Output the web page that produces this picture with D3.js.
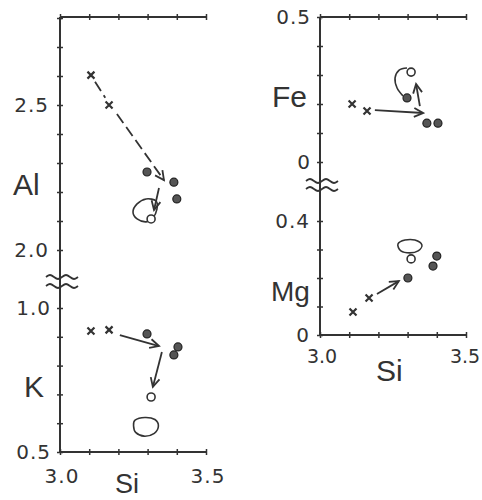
<!DOCTYPE html>
<html>
<head>
<meta charset="utf-8">
<script src="https://cdn.jsdelivr.net/npm/d3@7"></script>
<style>
  body { margin: 0; background: #fff; }
  text { font-family: "Liberation Sans", Arial, sans-serif; fill: #333; }
  text.num { font-family: "DejaVu Sans", sans-serif; letter-spacing: 1px; }
</style>
</head>
<body>
<div id="chart"></div>
<script>
// tick values and labels
var siTicks = [3.0, 3.1, 3.2, 3.3, 3.4, 3.5];
var siLabels = [3.0, 3.5];
var alTicks = [2.0, 2.1, 2.2, 2.3, 2.4, 2.5, 2.6, 2.7, 2.8];
var alLabels = [2.5, 2.0];
var kTicks = [0.5, 0.6, 0.7, 0.8, 0.9, 1.0];
var kLabels = [1.0, 0.5];
var feTicks = [0, 0.1, 0.2, 0.3, 0.4, 0.5];
var feLabels = [0.5, 0];
var mgTicks = [0, 0.1, 0.2, 0.3, 0.4];
var mgLabels = [0.4, 0];

// points [Si, value]
var alCross = [[3.106, 2.603], [3.168, 2.50]];
var alFilled = [[3.298, 2.269], [3.39, 2.234], [3.40, 2.176]];
var alOpen = [[3.312, 2.107]];
var alLoop = [[3.329, 2.169], [3.295, 2.176], [3.264, 2.159], [3.25, 2.131], [3.264, 2.107], [3.295, 2.097], [3.318, 2.110], [3.332, 2.141]];

var kCross = [[3.106, 0.92], [3.168, 0.924]];
var kFilled = [[3.298, 0.91], [3.404, 0.865], [3.39, 0.837]];
var kOpen = [[3.312, 0.691]];
var kLoop = [[3.257, 0.611], [3.291, 0.620], [3.325, 0.613], [3.337, 0.590], [3.323, 0.565], [3.288, 0.555], [3.259, 0.568], [3.252, 0.590]];

var feCross = [[3.110, 0.200], [3.161, 0.176]];
var feFilled = [[3.366, 0.134], [3.404, 0.134], [3.298, 0.221]];
var feOpen = [[3.312, 0.31]];
var feLoop = [[3.298, 0.324], [3.271, 0.317], [3.257, 0.290], [3.264, 0.255], [3.284, 0.228]];

var mgCross = [[3.113, 0.081], [3.168, 0.130]];
var mgFilled = [[3.301, 0.20], [3.40, 0.277], [3.387, 0.242]];
var mgOpen = [[3.312, 0.267]];
var mgLoop = [[3.267, 0.319], [3.291, 0.333], [3.325, 0.333], [3.349, 0.316], [3.336, 0.295], [3.308, 0.288], [3.277, 0.295]];

// arrows [from, to, dashed, head]
var alArrows = [[[3.12, 2.58], [3.155, 2.525], true, false], [[3.195, 2.469], [3.356, 2.241], true, true], [[3.339, 2.214], [3.322, 2.138], false, true]];
var kArrows = [[[3.205, 0.906], [3.339, 0.868], false, true], [[3.349, 0.847], [3.318, 0.726], false, true]];
var feArrows = [[[3.188, 0.179], [3.353, 0.169], false, true], [[3.342, 0.193], [3.329, 0.269], false, true]];
var mgArrows = [[[3.195, 0.144], [3.27, 0.189], false, true]];

var W = 482, H = 500;
var ink = "#333";

var svg = d3.select("#chart").append("svg")
    .attr("width", W).attr("height", H);

svg.append("defs").append("marker")
    .attr("id", "head")
    .attr("viewBox", "-10 -6 12 12")
    .attr("refX", 0).attr("refY", 0)
    .attr("markerWidth", 12).attr("markerHeight", 12)
    .attr("markerUnits", "userSpaceOnUse")
    .attr("orient", "auto")
  .append("path")
    .attr("d", "M-9,-4.5 L0,0 L-9,4.5")
    .attr("fill", "none")
    .attr("stroke", ink)
    .attr("stroke-width", 1.8);

// scales
var xL = d3.scaleLinear().domain([3.0, 3.5]).range([60, 206]);
var xR = d3.scaleLinear().domain([3.0, 3.5]).range([320, 466]);
var yAl = d3.scaleLinear().domain([2.0, 2.8]).range([250, 18]);
var yK = d3.scaleLinear().domain([0.5, 1.0]).range([452, 308]);
var yFe = d3.scaleLinear().domain([0, 0.5]).range([162, 17]);
var yMg = d3.scaleLinear().domain([0, 0.4]).range([335, 221]);

function frame(x, topY, botY) {
  // vertical line
  svg.append("line")
    .attr("x1", x.range()[0]).attr("x2", x.range()[0])
    .attr("y1", topY).attr("y2", botY)
    .attr("stroke", ink).attr("stroke-width", 2);
  // top and bottom axes
  [topY, botY].forEach(function(yy) {
    var g = svg.append("g").attr("transform", "translate(0," + yy + ")");
    g.call(d3.axisBottom(x).tickValues(siTicks).tickSize(3).tickFormat(""));
    g.select(".domain").attr("stroke", ink).attr("stroke-width", 2)
      .attr("d", "M" + x.range()[0] + ",0H" + x.range()[1]);
    g.selectAll(".tick line").attr("y1", -3).attr("stroke", ink).attr("stroke-width", 1.5);
  });
}

function yTicks(x0, y, ticks, labels, fmt, pad) {
  var g = svg.append("g").attr("transform", "translate(" + x0 + ",0)");
  g.call(d3.axisLeft(y).tickValues(ticks).tickSize(3).tickFormat(""));
  g.select(".domain").remove();
  g.selectAll(".tick line").attr("x1", 3).attr("stroke", ink).attr("stroke-width", 1.5);
  g.selectAll(".lab").data(labels).enter().append("text")
    .attr("class", "num")
    .attr("x", -pad)
    .attr("y", function(d) { return y(d) + 7; })
    .attr("text-anchor", "end")
    .style("font-size", "20px")
    .text(fmt);
}

function waves(x0, ys) {
  ys.forEach(function(yy) {
    var pts = d3.range(0, 9).map(function(i) {
      return [x0 - 14 + i * 4, yy + (i % 4 === 1 ? -3 : i % 4 === 3 ? 3 : 0)];
    });
    svg.append("path")
      .attr("d", d3.line().curve(d3.curveBasis)(pts))
      .attr("fill", "none").attr("stroke", ink).attr("stroke-width", 1.8);
  });
}

function marks(x, y, cross, filled, open, loop, closed, arrows) {
  var lg = closed ? d3.line().curve(d3.curveCardinalClosed) : d3.line().curve(d3.curveCardinal);
  svg.append("path")
    .attr("d", lg(loop.map(function(d) { return [x(d[0]), y(d[1])]; })))
    .attr("fill", "none").attr("stroke", ink).attr("stroke-width", 1.6);

  arrows.forEach(function(a) {
    svg.append("line")
      .attr("x1", x(a[0][0])).attr("y1", y(a[0][1]))
      .attr("x2", x(a[1][0])).attr("y2", y(a[1][1]))
      .attr("stroke", ink).attr("stroke-width", 1.8)
      .attr("stroke-dasharray", a[2] ? "11,5" : null)
      .attr("marker-end", a[3] ? "url(#head)" : null);
  });

  cross.forEach(function(d) {
    var cx = x(d[0]), cy = y(d[1]);
    svg.append("path")
      .attr("d", "M" + (cx - 3.5) + "," + (cy - 3.5) + "L" + (cx + 3.5) + "," + (cy + 3.5) +
                 "M" + (cx + 3.5) + "," + (cy - 3.5) + "L" + (cx - 3.5) + "," + (cy + 3.5))
      .attr("stroke", ink).attr("stroke-width", 2.2);
  });

  svg.append("g").selectAll("circle").data(filled).enter().append("circle")
    .attr("cx", function(d) { return x(d[0]); })
    .attr("cy", function(d) { return y(d[1]); })
    .attr("r", 4)
    .attr("fill", "#555").attr("stroke", "#222").attr("stroke-width", 1.2);

  svg.append("g").selectAll("circle").data(open).enter().append("circle")
    .attr("cx", function(d) { return x(d[0]); })
    .attr("cy", function(d) { return y(d[1]); })
    .attr("r", 4)
    .attr("fill", "#fff").attr("stroke", ink).attr("stroke-width", 1.6);
}

function label(txt, x, y, size) {
  svg.append("text").attr("x", x).attr("y", y)
    .style("font-size", size + "px").text(txt);
}

// left panel
frame(xL, 17, 452);
yTicks(60, yAl, alTicks, alLabels, d3.format(".1f"), 11);
yTicks(60, yK, kTicks, kLabels, d3.format(".1f"), 9);
waves(60, [277, 286]);
marks(xL, yAl, alCross, alFilled, alOpen, alLoop, true, alArrows);
marks(xL, yK, kCross, kFilled, kOpen, kLoop, true, kArrows);

// right panel
frame(xR, 17, 335);
var fmt0 = function(d) { return d === 0 ? "0" : d3.format(".1f")(d); };
yTicks(320, yFe, feTicks, feLabels, fmt0, 9);
yTicks(320, yMg, mgTicks, mgLabels, fmt0, 10);
waves(320, [181, 189]);
marks(xR, yFe, feCross, feFilled, feOpen, feLoop, false, feArrows);
marks(xR, yMg, mgCross, mgFilled, mgOpen, mgLoop, true, mgArrows);

// x tick labels
svg.selectAll(".xl").data(siLabels).enter().append("text")
  .attr("class", "num")
  .attr("x", function(d) { return xL(d) + 2; }).attr("y", 483)
  .attr("text-anchor", "middle").style("font-size", "20px")
  .text(d3.format(".1f"));
svg.selectAll(".xr").data(siLabels).enter().append("text")
  .attr("class", "num")
  .attr("x", function(d) { return xR(d) + (d === 3.5 ? -1 : 2); }).attr("y", 363)
  .attr("text-anchor", "middle").style("font-size", "19px").style("letter-spacing", "0px")
  .text(d3.format(".1f"));

// element labels
label("Al", 13, 195, 30);
label("K", 24, 397, 30);
label("Si", 115, 493, 27);
label("Fe", 272, 107, 30);
label("Mg", 271, 301, 28);
label("Si", 376, 381, 30);
</script>
</body>
</html>
